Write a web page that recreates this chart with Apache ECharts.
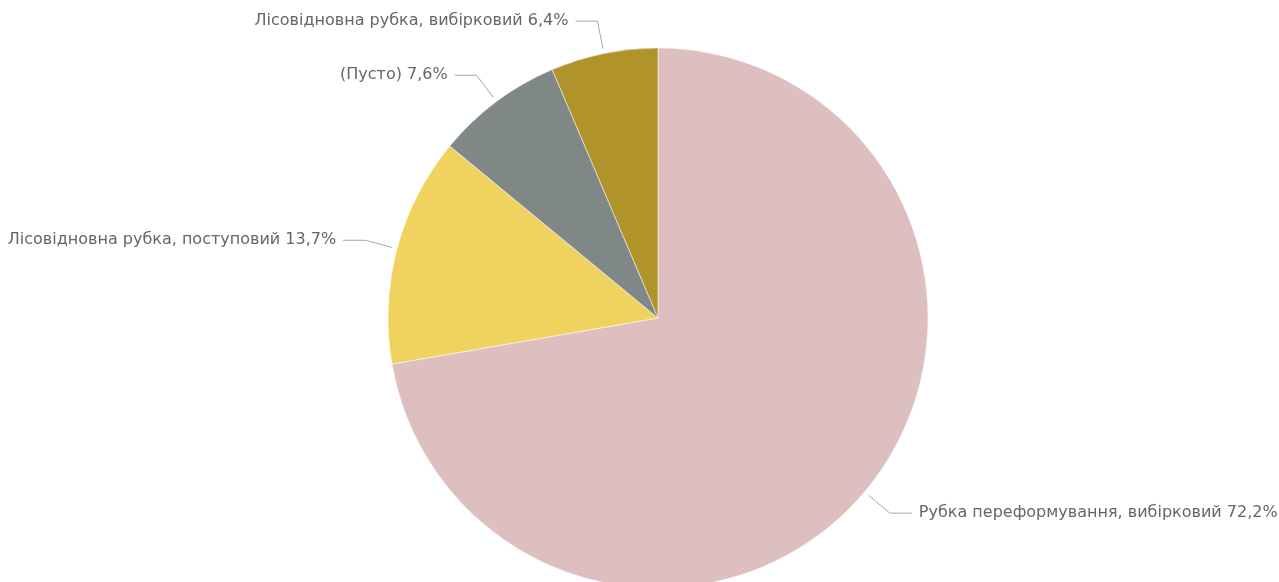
<!DOCTYPE html>
<html>
<head>
<meta charset="utf-8">
<script src="https://cdn.jsdelivr.net/npm/echarts@6/dist/echarts.min.js"></script>
<style>
  html, body { margin: 0; padding: 0; background: #ffffff; }
  #chart { width: 1279px; height: 582px; }
</style>
</head>
<body>
<div id="chart"></div>
<script>
// Частки видів рубок (%)
const categories = [
  'Рубка переформування, вибірковий',
  'Лісовідновна рубка, поступовий',
  '(Пусто)',
  'Лісовідновна рубка, вибірковий'
];
const shares = [72.2, 13.7, 7.6, 6.4];
const colors = ['#DDBFC0', '#F0D25E', '#7F8787', '#B0932A'];

const CENTER = [658, 318];
const sliceData = categories.map((name, i) => ({
  name: name,
  value: shares[i],
  itemStyle: { color: colors[i] }
}));
const labelData = categories.map((name, i) => ({ name: name, value: shares[i] }));

const chart = echarts.init(document.getElementById('chart'));
chart.setOption({
  animation: false,
  series: [
    {
      // the slices themselves
      type: 'pie',
      center: CENTER,
      radius: 270,
      startAngle: 90,
      clockwise: true,
      data: sliceData,
      itemStyle: { borderColor: '#ffffff', borderWidth: 0.5 },
      label: { show: false },
      labelLine: { show: false },
      emphasis: { disabled: true }
    },
    {
      // a slightly larger, transparent ring that carries the labels,
      // so the leader lines start a little way off the slice edge
      type: 'pie',
      center: CENTER,
      radius: 275,
      startAngle: 90,
      clockwise: true,
      silent: true,
      avoidLabelOverlap: false,
      data: labelData,
      itemStyle: { color: 'rgba(0,0,0,0)', borderWidth: 0 },
      label: {
        show: true,
        position: 'outer',
        color: '#666666',
        fontFamily: 'DejaVu Sans, sans-serif',
        fontSize: 16,
        padding: [4, 0, 0, 0],
        distanceToLabelLine: 7,
        formatter: p => p.name + ' ' + p.value.toFixed(1).replace('.', ',') + '%'
      },
      labelLine: {
        show: true,
        length: 28,
        length2: 22,
        lineStyle: { color: '#A6A6A6', width: 1 }
      },
      emphasis: { disabled: true }
    }
  ]
});
</script>
</body>
</html>
